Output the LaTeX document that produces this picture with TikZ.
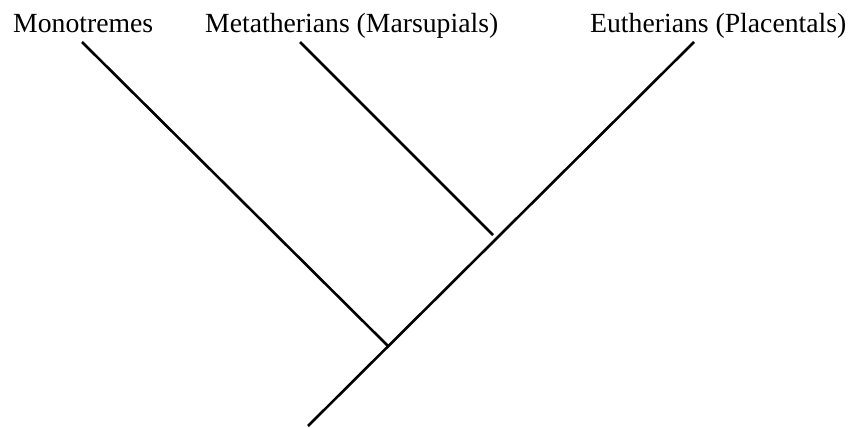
\documentclass[tikz,border=0pt]{standalone}
\usepackage{fontspec}
\setmainfont{Liberation Serif}
\begin{document}
\begin{tikzpicture}[x=1pt,y=-1pt,
  lbl/.style={anchor=base west,inner sep=0pt,font=\fontsize{27.7}{30}\selectfont},
  branch/.style={line width=2.6pt}]
\useasboundingbox (0,0) rectangle (852,428);
\node[lbl] (mono) at (13,33) {Monotremes};
\node[lbl] (meta) at (205,33) {Metatherians (Marsupials)};
\node[lbl] (euth) at (590,33) {Eutherians (Placentals)};
\coordinate (root) at (308,426);
\coordinate (etop) at (694,42);
\coordinate (mtop) at (82,42);
\coordinate (j1) at (388,346);
\coordinate (ttop) at (300,42);
\coordinate (j2) at (493,235);
\draw[branch] (root) -- (etop);
\draw[branch] (mtop) -- (j1);
\draw[branch] (ttop) -- (j2);
\end{tikzpicture}
\end{document}
